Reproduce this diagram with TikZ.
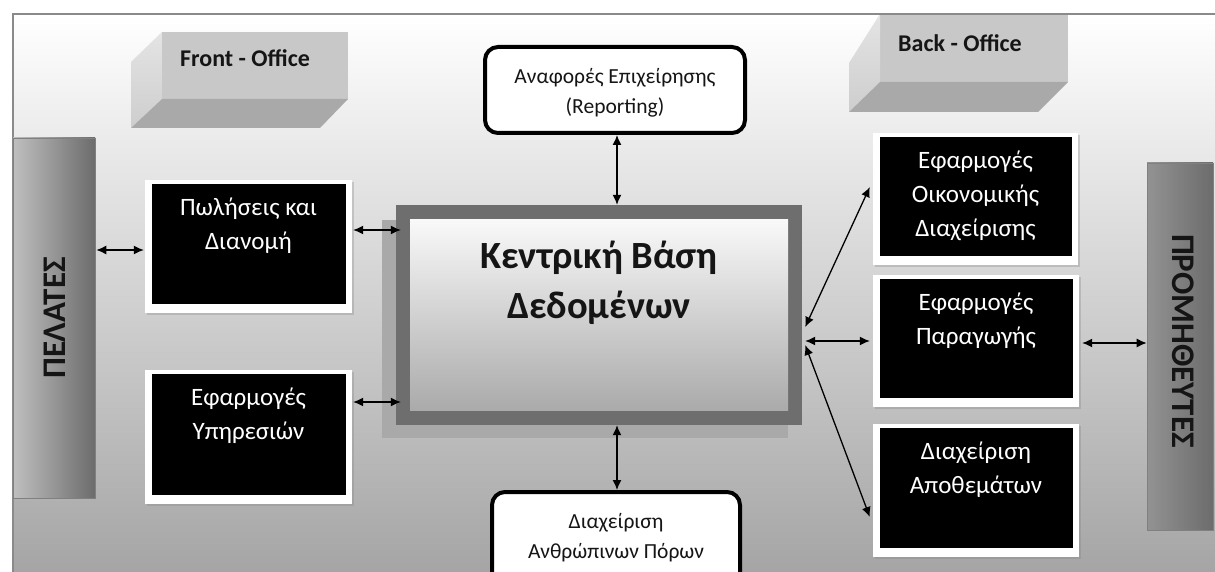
\documentclass[tikz,border=0pt]{standalone}
\usepackage{fontspec}
\setmainfont{Carlito}
\usetikzlibrary{arrows.meta,calc,shadows}

\definecolor{bgbot}{HTML}{A2A2A2}
\definecolor{framegray}{HTML}{8A8A8A}
\definecolor{dbframe}{HTML}{6E6E6E}
\definecolor{dbshadow}{HTML}{A9A9A9}
\definecolor{dbbot}{HTML}{A4A4A4}
\definecolor{boxtop}{HTML}{C8C8C8}
\definecolor{boxbot}{HTML}{A9A9A9}
\definecolor{boxside}{HTML}{E4E4E4}
\definecolor{bardark}{HTML}{6C6C6C}
\definecolor{barlight}{HTML}{DCDCDC}
\definecolor{inkdark}{HTML}{151515}

\tikzset{
  appbox/.style={fill=white, inner sep=0pt,
    drop shadow={shadow xshift=1.5pt, shadow yshift=-2pt, opacity=0.3},
    path picture={\fill[black]
      ([xshift=6.5pt,yshift=-4pt]path picture bounding box.north west) rectangle
      ([xshift=-6.5pt,yshift=9pt]path picture bounding box.south east);}},
  apptext/.style={text=white, align=center, anchor=north, inner sep=0pt,
    font=\fontsize{25}{34}\selectfont},
  rbox/.style={draw=black, line width=4pt, rounded corners=13pt, fill=white, inner sep=0pt},
  rtext/.style={align=center, inner sep=0pt, text=inkdark,
    font=\fontsize{21.5}{30}\selectfont},
  officetext/.style={font=\bfseries\fontsize{24}{26}\selectfont, text=inkdark},
  bartext/.style={font=\bfseries\fontsize{33}{35}\selectfont, text=inkdark, inner sep=0pt},
  arr/.style={{Latex[length=10pt,width=9pt]}-{Latex[length=10pt,width=9pt]}, line width=1.3pt},
}

\begin{document}
\begin{tikzpicture}[x=1pt,y=-1pt]
\useasboundingbox (0,0) rectangle (1215,572);
\clip (0,0) rectangle (1215,572);

% page and framed background panel
\fill[white] (0,0) rectangle (1215,572);
\shade[top color=white, bottom color=bgbot] (13,14) rectangle (1230,590);

% Front-Office block
\fill[boxtop] (162,32) rectangle (348,99);
\shade[top color=boxside, bottom color=boxtop!90] (162,32) -- (131,62) -- (131,128) -- (162,99) -- cycle;
\fill[boxbot] (162,99) -- (348,99) -- (320,128) -- (131,128) -- cycle;
\node[officetext] (front) at (245,58) {Front - Office};

% Back-Office block
\fill[boxtop] (880,14) rectangle (1068,82);
\shade[top color=boxside, bottom color=boxtop!90] (880,14) -- (849,63) -- (849,112) -- (880,82) -- cycle;
\fill[boxbot] (880,82) -- (1068,82) -- (1038,112) -- (849,112) -- cycle;
\node[officetext] (back) at (960,43) {Back - Office};

% panel border
\draw[framegray, line width=2.5pt] (13,600) -- (13,14) -- (1230,14);

% side bars
\node[draw=gray, line width=0.6pt, minimum width=82pt, minimum height=360pt, inner sep=0pt,
      left color=gray!50, middle color=barlight, right color=bardark] (pel) at (54,318) {};
\node[bartext, rotate=90] (peltext) at (55,318) {ΠΕΛΑΤΕΣ};
\node[draw=gray, line width=0.6pt, minimum width=66pt, minimum height=367pt, inner sep=0pt,
      left color=gray!85, middle color=barlight, right color=bardark] (prom) at (1180,346.5) {};
\node[bartext, rotate=-90] (promtext) at (1183,341) {ΠΡΟΜΗΘΕΥΤΕΣ};

% central database
\fill[dbshadow] (382,220) rectangle (788,438);
\node[fill=dbframe, minimum width=406pt, minimum height=220pt, inner sep=0pt,
      path picture={\shade[top color=white, bottom color=dbbot]
        ([xshift=14pt,yshift=-15pt]path picture bounding box.north west) rectangle
        ([xshift=-14pt,yshift=15pt]path picture bounding box.south east);}] (db) at (599,315) {};
\node[align=center, text=inkdark, font=\bfseries\fontsize{38.5}{50}\selectfont] (dbtext) at (599,283)
  {Κεντρική Βάση\\Δεδομένων};

% reporting and HR boxes
\node[rbox, minimum width=260pt, minimum height=86pt] (rep) at (615,90) {};
\node[rtext] (reptext) at (615,93) {Αναφορές Επιχείρησης\\(Reporting)};
\node[rbox, minimum width=248pt, minimum height=110pt] (hr) at (616,547) {};
\node[rtext] (hrtext) at (616,538) {Διαχείριση\\Ανθρώπινων Πόρων};

% application boxes
\node[appbox, minimum width=207pt, minimum height=133pt] (pwl) at (248.5,246.5) {};
\node[apptext] at ([yshift=-18pt]pwl.north) {Πωλήσεις και\\Διανομή};
\node[appbox, minimum width=207pt, minimum height=134pt] (yps) at (248.5,437) {};
\node[apptext] at ([yshift=-18pt]yps.north) {Εφαρμογές\\Υπηρεσιών};
\node[appbox, minimum width=205pt, minimum height=132pt] (b1) at (975.5,199) {};
\node[apptext] at ([yshift=-18pt]b1.north) {Εφαρμογές\\Οικονομικής\\Διαχείρισης};
\node[appbox, minimum width=206pt, minimum height=132pt] (b2) at (976,341) {};
\node[apptext] at ([yshift=-18pt]b2.north) {Εφαρμογές\\Παραγωγής};
\node[appbox, minimum width=206pt, minimum height=133pt] (b3) at (976,490.5) {};
\node[apptext] at ([yshift=-18pt]b3.north) {Διαχείριση\\Αποθεμάτων};

% connectors
\coordinate (vx) at (617,0);
\draw[arr] (rep.south -| vx) -- (db.north -| vx);
\draw[arr] (db.south -| vx) -- (hr.north -| vx);
\draw[arr] ($(pel.east)+(1,-68)$) -- ($(pwl.west)+(-1,3.5)$);
\draw[arr] ($(pwl.east)+(1,-16.5)$) -- ($(db.west)+(5,-85)$);
\draw[arr] ($(yps.east)+(1,-35)$) -- ($(db.west)+(5,87)$);
\draw[arr] ($(db.east)+(3,12)$) -- ($(b1.west)+(-3,-12)$);
\draw[arr] ($(db.east)+(3,26)$) -- ($(b2.west)+(-3,0)$);
\draw[arr] ($(db.east)+(3,30)$) -- ($(b3.west)+(-3,26.5)$);
\draw[arr] ($(b2.east)+(3,2)$) -- ($(prom.west)+(0,-3.5)$);
\end{tikzpicture}
\end{document}
